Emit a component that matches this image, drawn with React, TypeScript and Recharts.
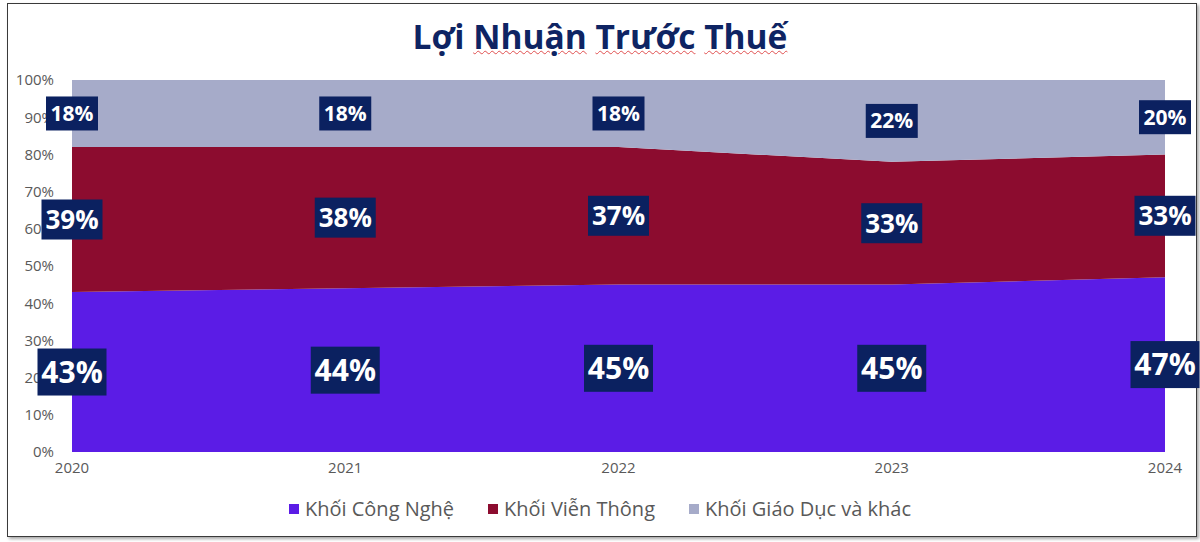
import { Area, ComposedChart, LabelList, Line, XAxis, YAxis } from "recharts";

const years = ["2020", "2021", "2022", "2023", "2024"];
const congNghe = [43, 44, 45, 45, 47];
const vienThong = [39, 38, 37, 33, 33];
const giaoDuc = [18, 18, 18, 22, 20];
const yTicks = [0, 10, 20, 30, 40, 50, 60, 70, 80, 90, 100];

const FONT = "'Open Sans', 'Noto Sans', sans-serif";
const NAVY = "#0B2160";

const data = years.map((year, i) => ({
  year,
  congNghe: congNghe[i],
  vienThong: vienThong[i],
  giaoDuc: giaoDuc[i],
  // label anchors: middle of each stacked band
  midCongNghe: congNghe[i] / 2,
  midVienThong: congNghe[i] + vienThong[i] / 2,
  midGiaoDuc: congNghe[i] + vienThong[i] + giaoDuc[i] / 2,
}));

const series = [
  { key: "congNghe", name: "Khối Công Nghệ", color: "#5B1CE6", values: congNghe, font: 30, w: 69, h: 47 },
  { key: "vienThong", name: "Khối Viễn Thông", color: "#8C0C2F", values: vienThong, font: 26, w: 61, h: 40 },
  { key: "giaoDuc", name: "Khối Giáo Dục và khác", color: "#A6ABC9", values: giaoDuc, font: 21, w: 52, h: 34 },
];

function boxLabel(values: number[], font: number, w: number, h: number) {
  return (props: any) => {
    const { x, y, index } = props;
    return (
      <g>
        <rect x={x - w / 2} y={y - h / 2} width={w} height={h} fill={NAVY} />
        <text
          x={x}
          y={y}
          dy="0.36em"
          textAnchor="middle"
          fill="#fff"
          fontFamily={FONT}
          fontWeight={700}
          fontSize={font}
        >
          {`${values[index]}%`}
        </text>
      </g>
    );
  };
}

const wavy = { textDecoration: "underline wavy #e05050", textDecorationThickness: 1 };

export default function App() {
  return (
    <div
      style={{
        position: "fixed",
        left: 0,
        top: 0,
        width: 1200,
        height: 542,
        background: "#fff",
        fontFamily: FONT,
      }}
    >
      <div
        style={{
          position: "absolute",
          left: 7,
          top: 3,
          width: 1188,
          height: 532,
          border: "1px solid #3a3a3a",
          boxShadow: "2px 2px 3px rgba(0,0,0,0.35)",
        }}
      />
      <div
        style={{
          position: "absolute",
          left: 0,
          top: 15,
          width: 1200,
          textAlign: "center",
          fontSize: 33.5,
          lineHeight: "42px",
          fontWeight: 700,
          color: "#0E2463",
        }}
      >
        Lợi <span style={wavy}>Nhuận</span> <span style={wavy}>Trước</span>{" "}
        <span style={wavy}>Thuế</span>
      </div>

      <div style={{ position: "absolute", left: 0, top: 0 }}>
        <ComposedChart
          width={1200}
          height={542}
          data={data}
          margin={{ top: 80, right: 35, left: 12, bottom: 60 }}
        >
          <XAxis
            dataKey="year"
            axisLine={false}
            tickLine={false}
            tickSize={0}
            tickMargin={10}
            tick={{ fill: "#595959", fontSize: 15, fontFamily: FONT }}
            height={30}
          />
          <YAxis
            domain={[0, 100]}
            ticks={yTicks}
            tickFormatter={(v) => `${v}%`}
            axisLine={false}
            tickLine={false}
            tickSize={0}
            tickMargin={18}
            width={60}
            tick={{ fill: "#595959", fontSize: 15, fontFamily: FONT }}
          />
          {series.map((s) => (
            <Area
              key={s.key}
              type="linear"
              dataKey={s.key}
              stackId="a"
              stroke="none"
              fill={s.color}
              fillOpacity={1}
              isAnimationActive={false}
            />
          ))}
          {series.map((s) => (
            <Line
              key={"mid-" + s.key}
              dataKey={"mid" + s.key.charAt(0).toUpperCase() + s.key.slice(1)}
              stroke="none"
              dot={false}
              activeDot={false}
              isAnimationActive={false}
            >
              <LabelList content={boxLabel(s.values, s.font, s.w, s.h)} />
            </Line>
          ))}
        </ComposedChart>
      </div>

      {/* legend */}
      <div
        style={{
          position: "absolute",
          left: 0,
          top: 495,
          width: 1200,
          display: "flex",
          justifyContent: "center",
          gap: 34,
          fontSize: 20,
          color: "#595959",
        }}
      >
        {series.map((s) => (
          <span key={s.key} style={{ display: "flex", alignItems: "center", gap: 6 }}>
            <span style={{ width: 10, height: 10, background: s.color, display: "inline-block" }} />
            {s.name}
          </span>
        ))}
      </div>
    </div>
  );
}
